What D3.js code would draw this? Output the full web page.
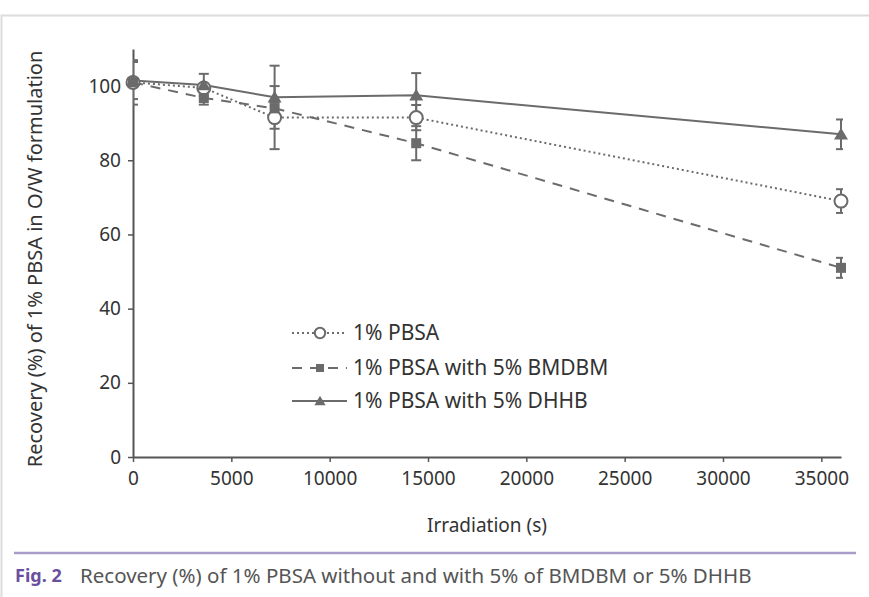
<!DOCTYPE html>
<html><head><meta charset="utf-8">
<script src="https://cdn.jsdelivr.net/npm/d3@7"></script>
<style>body{margin:0;background:#fff;} svg{display:block;} text{font-family:"Noto Sans",sans-serif;}</style>
</head><body>
<svg id="c" width="869" height="597"></svg>
<script>
const times = [0, 3600, 7200, 14400, 36000];
const pbsa = [101, 99.5, 91.5, 91.5, 69];
const pbsaErr = [6, 1, 8.5, 3.4, 3.2];
const bmdbm = [101, 96.8, 94, 84.6, 51];
const bmdbmErr = [0.5, 1.8, 1.5, 4.6, 2.7];
const dhhb = [101.5, 100.3, 97, 97.5, 87];
const dhhbErr = [5, 3, 8.5, 6, 4];
const xTicks = [0, 5000, 10000, 15000, 20000, 25000, 30000, 35000];
const yTicks = [0, 20, 40, 60, 80, 100];
const seriesNames = ["1% PBSA", "1% PBSA with 5% BMDBM", "1% PBSA with 5% DHHB"];

const grey = "#6b6b6b";
const svg = d3.select("#c");

// frame
svg.append("rect").attr("x", 1.5).attr("y", 15.5).attr("width", 900).attr("height", 700)
  .attr("fill", "none").attr("stroke", "#dcdcdc").attr("stroke-width", 2);

const x = d3.scaleLinear().domain([0, 36000]).range([133, 841]);
const y = d3.scaleLinear().domain([0, 110]).range([457, 49]);

const series = [
  {name: seriesNames[0], vals: pbsa, err: pbsaErr, dash: "2,3", marker: "circle"},
  {name: seriesNames[1], vals: bmdbm, err: bmdbmErr, dash: "10,8", marker: "square"},
  {name: seriesNames[2], vals: dhhb, err: dhhbErr, dash: null, marker: "triangle"}
];

svg.append("defs").append("clipPath").attr("id", "clip")
  .append("rect").attr("x", 133).attr("y", 0).attr("width", 710).attr("height", 597);

// axes
const xAxis = svg.append("g").attr("transform", `translate(0,${y(0)})`)
  .call(d3.axisBottom(x).tickValues(xTicks).tickSize(5).tickSizeOuter(0).tickPadding(10).tickFormat(d3.format("d")));
const yAxis = svg.append("g").attr("transform", `translate(${x(0)},0)`)
  .call(d3.axisLeft(y).tickValues(yTicks).tickSize(5).tickSizeOuter(0).tickPadding(7));
[xAxis, yAxis].forEach(g => {
  g.selectAll("path.domain").attr("stroke", "#555").attr("stroke-width", 2);
  g.selectAll(".tick line").attr("stroke", "#555").attr("stroke-width", 1.5);
  g.selectAll("text").attr("fill", "#333").style("font-size", "19px").style("font-family", '"Noto Sans",sans-serif');
});

const line = d3.line().x((d, i) => x(times[i])).y(d => y(d));

// lines
series.forEach(s => {
  svg.append("path").datum(s.vals).attr("d", line).attr("fill", "none")
    .attr("stroke", grey).attr("stroke-width", 2)
    .attr("stroke-dasharray", s.dash);
});

// error bars
const eg = svg.append("g").attr("clip-path", "url(#clip)").attr("stroke", grey).attr("stroke-width", 2);
series.forEach(s => {
  s.vals.forEach((v, i) => {
    const cx = x(times[i]);
    const lo = y(v - s.err[i]), hi = y(v + s.err[i]);
    eg.append("line").attr("x1", cx).attr("x2", cx).attr("y1", lo).attr("y2", hi);
    eg.append("line").attr("x1", cx - 5).attr("x2", cx + 5).attr("y1", lo).attr("y2", lo);
    eg.append("line").attr("x1", cx - 5).attr("x2", cx + 5).attr("y1", hi).attr("y2", hi);
  });
});

function drawMarker(g, type, cx, cy, scale) {
  scale = scale || 1;
  if (type === "circle") {
    g.append("circle").attr("cx", cx).attr("cy", cy).attr("r", 6.5 * scale)
      .attr("fill", "#fff").attr("stroke", grey).attr("stroke-width", 2);
  } else if (type === "square") {
    const h = 5 * scale;
    g.append("rect").attr("x", cx - h).attr("y", cy - h).attr("width", 2 * h).attr("height", 2 * h).attr("fill", grey);
  } else {
    const w = 7 * scale, hh = 6.5 * scale;
    g.append("path").attr("d", `M${cx},${cy - hh}L${cx + w},${cy + hh * 0.8}L${cx - w},${cy + hh * 0.8}Z`).attr("fill", grey);
  }
}

// markers (circles first, triangles on top)
const mg = svg.append("g");
series.forEach(s => {
  s.vals.forEach((v, i) => drawMarker(mg, s.marker, x(times[i]), y(v)));
});

// legend
const lg = svg.append("g");
const legY = [333, 368, 401];
series.forEach((s, i) => {
  const ly = legY[i];
  lg.append("line").attr("x1", 292).attr("x2", 347).attr("y1", ly).attr("y2", ly)
    .attr("stroke", grey).attr("stroke-width", 2).attr("stroke-dasharray", s.dash);
  drawMarker(lg, s.marker, 320, ly, 0.8);
  lg.append("text").attr("x", 353).attr("y", ly).attr("dy", "0.35em").attr("fill", "#333")
    .style("font-size", "21px").text(s.name);
});

// axis titles
svg.append("text").attr("x", 487).attr("y", 525).attr("dy", "0.35em").attr("text-anchor", "middle")
  .attr("fill", "#333").style("font-size", "19px").text("Irradiation (s)");
svg.append("text").attr("transform", "translate(35,259) rotate(-90)").attr("dy", "0.35em")
  .attr("text-anchor", "middle").attr("fill", "#333").style("font-size", "20px")
  .text("Recovery (%) of 1% PBSA in O/W formulation");

// caption
svg.append("line").attr("x1", 14).attr("x2", 856).attr("y1", 553).attr("y2", 553)
  .attr("stroke", "#a99ccb").attr("stroke-width", 2.5);
svg.append("text").attr("x", 15).attr("y", 576).attr("dy", "0.35em").attr("fill", "#6a4f9e")
  .style("font-size", "18px").style("font-weight", "bold").text("Fig. 2");
svg.append("text").attr("x", 80).attr("y", 576).attr("dy", "0.35em").attr("fill", "#555")
  .style("font-size", "20.5px").text("Recovery (%) of 1% PBSA without and with 5% of BMDBM or 5% DHHB");
</script>
</body></html>
